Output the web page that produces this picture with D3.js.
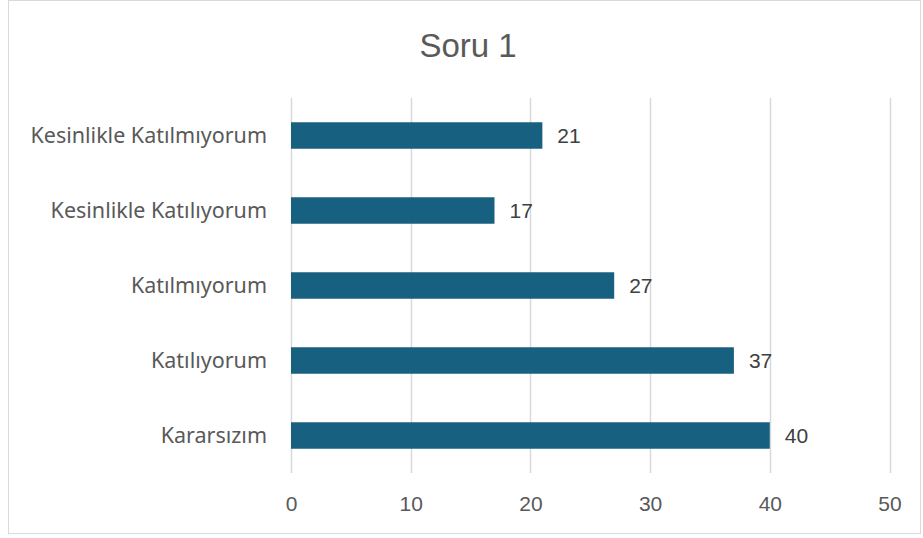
<!DOCTYPE html>
<html>
<head>
<meta charset="utf-8">
<script src="https://cdn.jsdelivr.net/npm/d3@7"></script>
<style>
  html, body { margin: 0; padding: 0; background: #ffffff; }
  svg { display: block; }
</style>
</head>
<body>
<svg id="chart" width="923" height="538"></svg>
<script>
const title = "Soru 1";
const categories = ["Kesinlikle Katılmıyorum", "Kesinlikle Katılıyorum", "Katılmıyorum", "Katılıyorum", "Kararsızım"];
const values = [21, 17, 27, 37, 40];
const tickValues = [0, 10, 20, 30, 40, 50];

const svg = d3.select("#chart");

// outer border
svg.append("rect")
  .attr("x", 8.5).attr("y", 0.5)
  .attr("width", 912).attr("height", 533)
  .attr("fill", "#ffffff")
  .attr("stroke", "#d9d9d9").attr("stroke-width", 1);

const x = d3.scaleLinear().domain([0, 50]).range([291, 889.5]);
const y = d3.scaleBand().domain(categories).range([98, 473])
  .paddingInner(0.647).paddingOuter(0.3235);

// title
svg.append("text")
  .attr("x", 468).attr("y", 56.5)
  .attr("text-anchor", "middle")
  .attr("font-family", "'Liberation Sans', Arial, sans-serif")
  .attr("font-size", 33)
  .attr("fill", "#595959")
  .text(title);

// gridlines
svg.append("g")
  .selectAll("line")
  .data(tickValues)
  .join("line")
  .attr("x1", d => Math.round(x(d)) + 0.5)
  .attr("x2", d => Math.round(x(d)) + 0.5)
  .attr("y1", 98).attr("y2", 473)
  .attr("stroke", "#d9d9d9").attr("stroke-width", 1.5);

// x axis tick labels
const xAxis = d3.axisBottom(x).tickValues(tickValues).tickSize(0).tickPadding(0);
const gx = svg.append("g").attr("transform", "translate(0,496)").call(xAxis);
gx.select(".domain").remove();
gx.selectAll("text")
  .attr("font-family", "'Liberation Sans', Arial, sans-serif")
  .attr("font-size", 21)
  .attr("fill", "#595959")
  .attr("dy", "0.71em");

// y axis category labels
const yAxis = d3.axisLeft(y).tickSize(0).tickPadding(0);
const gy = svg.append("g").attr("transform", "translate(267,0)").call(yAxis);
gy.select(".domain").remove();
gy.selectAll("text")
  .attr("font-family", "'Noto Sans', 'Open Sans', sans-serif")
  .attr("font-size", 21.5)
  .attr("fill", "#595959")
  .attr("dy", "0.35em");

// bars
svg.append("g")
  .selectAll("rect")
  .data(categories)
  .join("rect")
  .attr("x", x(0))
  .attr("y", d => y(d))
  .attr("width", (d, i) => x(values[i]) - x(0))
  .attr("height", y.bandwidth())
  .attr("fill", "#17607f");

// value labels
svg.append("g")
  .selectAll("text")
  .data(categories)
  .join("text")
  .attr("x", (d, i) => x(values[i]) + 15)
  .attr("y", d => y(d) + y.bandwidth() / 2)
  .attr("dy", "0.36em")
  .attr("font-family", "'Liberation Sans', Arial, sans-serif")
  .attr("font-size", 21)
  .attr("fill", "#404040")
  .text((d, i) => values[i]);
</script>
</body>
</html>
